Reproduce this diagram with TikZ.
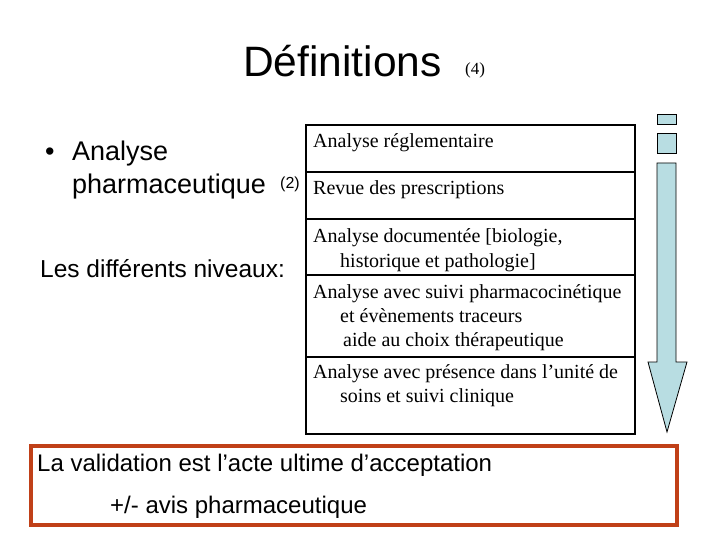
\documentclass[tikz,border=0pt]{standalone}
\usepackage{fontspec}
\setmainfont{Liberation Sans}
\newfontfamily\timesfont{Liberation Serif}
\usepackage{xcolor}

\definecolor{rouille}{RGB}{192,64,24}
\definecolor{bleuclair}{RGB}{184,221,226}

\tikzset{
  txt/.style={anchor=base west, inner sep=0pt},
  niveau/.style={anchor=base west, inner sep=0pt,
                 font=\timesfont\fontsize{20}{24}\selectfont},
}

\begin{document}
\begin{tikzpicture}[x=1pt,y=-1pt]
                \useasboundingbox (0,0) rectangle (720,540);

                % titre
                \node[txt, font=\fontsize{42.5}{48}\selectfont] (titre) at (243,77) {Définitions};
                \node[txt, font=\timesfont\fontsize{17}{20}\selectfont] (ref4) at (465,75) {(4)};

                % gauche
                \node[txt, font=\fontsize{27}{32}\selectfont] (puce) at (45,161) {•};
                \node[txt, font=\fontsize{27}{32}\selectfont] (analyse) at (72,161) {Analyse};
                \node[txt, font=\fontsize{27}{32}\selectfont] (pharma) at (72,194) {pharmaceutique};
                \node[txt, font=\fontsize{16}{18}\selectfont] (ref2) at (280,189) {(2)};
                \node[txt, font=\fontsize{24.5}{28}\selectfont] (niveaux) at (40,277) {Les différents niveaux:};

                % tableau des niveaux
                \draw[line width=1.5pt] (306,125) rectangle (635,434);
                \draw[line width=1.5pt] (306,172) -- (635,172);
                \draw[line width=1.5pt] (306,219) -- (635,219);
                \draw[line width=1.5pt] (306,275) -- (635,275);
                \draw[line width=1.5pt] (306,357) -- (635,357);

                \node[niveau] (n1) at (313,148) {Analyse réglementaire};
                \node[niveau] (n2) at (313,195) {Revue des prescriptions};
                \node[niveau] (n3a) at (313,243) {Analyse documentée [biologie,};
                \node[niveau] (n3b) at (340,267) {historique et pathologie]};
                \node[niveau] (n4a) at (313,298) {Analyse avec suivi pharmacocinétique};
                \node[niveau] (n4b) at (340,322) {et évènements traceurs};
                \node[niveau] (n4c) at (343,346) {aide au choix thérapeutique};
                \node[niveau] (n5a) at (313,378) {Analyse avec présence dans l’unité de};
                \node[niveau] (n5b) at (340,402) {soins et suivi clinique};

                % fleche
                \filldraw[fill=bleuclair, line width=0.8pt] (657,114) rectangle (676,124);
                \filldraw[fill=bleuclair, line width=0.8pt] (657,133) rectangle (676,153);
                \filldraw[fill=bleuclair, line width=0.8pt]
                  (657,163) -- (676,163) -- (676,362) -- (687,362) -- (667,432)
                  -- (648,362) -- (657,362) -- cycle;

                % validation
                \draw[rouille, line width=3.5pt] (31,446) rectangle (677,525);
                \node[txt, font=\fontsize{24}{28}\selectfont] (valid) at (37,471) {La validation est l’acte ultime d’acceptation};
                \node[txt, font=\fontsize{24}{28}\selectfont] (avis) at (110,513) {+/- avis pharmaceutique};
            \end{tikzpicture}
\end{document}
